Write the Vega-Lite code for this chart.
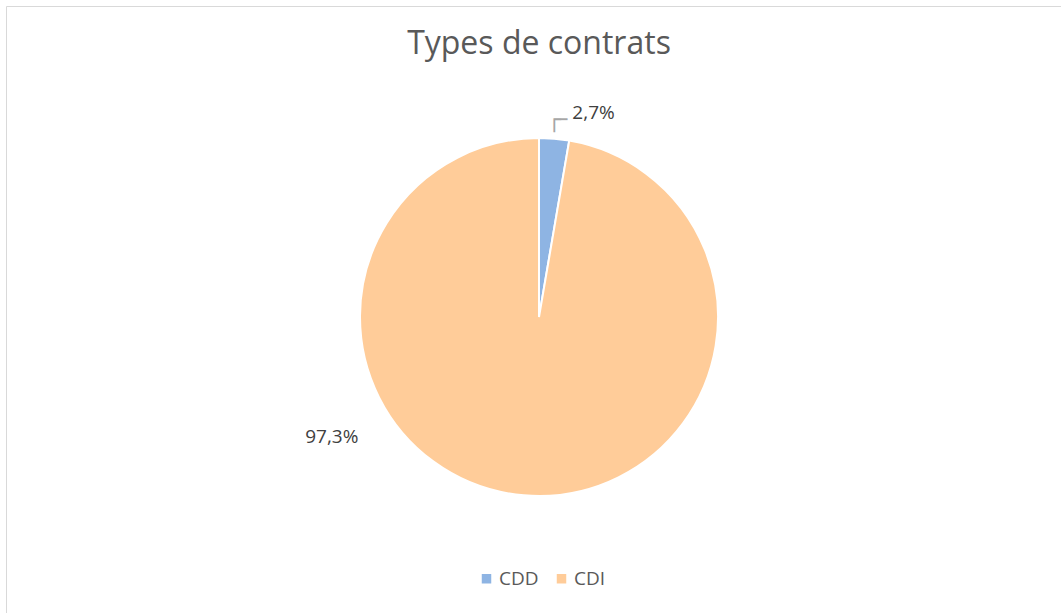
{
  "$schema": "https://vega.github.io/schema/vega-lite/v6.json",
  "width": 1066,
  "height": 622,
  "autosize": "none",
  "padding": {"left": 6, "top": 6, "right": 0, "bottom": 0},
  "background": "white",
  "view": {"stroke": "#d9d9d9", "strokeWidth": 1, "fill": "white"},
  "title": {
    "text": "Types de contrats",
    "font": "Open Sans",
    "fontSize": 32,
    "fontWeight": "normal",
    "color": "#595959",
    "anchor": "middle",
    "frame": "group",
    "baseline": "alphabetic",
    "offset": -80
  },
  "data": {
    "values": [
      {"type": "CDD", "value": 2.7, "label": "2,7%"},
      {"type": "CDI", "value": 97.3, "label": "97,3%"}
    ]
  },
  "encoding": {
    "theta": {"field": "value", "type": "quantitative", "stack": true},
    "order": {"field": "type", "type": "nominal", "sort": "ascending"}
  },
  "layer": [
    {
      "mark": {"type": "arc", "outerRadius": 179, "stroke": "white", "strokeWidth": 2},
      "encoding": {
        "color": {
          "field": "type",
          "type": "nominal",
          "scale": {"domain": ["CDD", "CDI"], "range": ["#8EB4E3", "#FFCC99"]},
          "legend": {
            "orient": "none",
            "legendX": 471,
            "legendY": 563,
            "direction": "horizontal",
            "title": null,
            "symbolType": "square",
            "symbolSize": 90,
            "symbolStrokeWidth": 0,
            "labelFont": "Open Sans",
            "labelFontSize": 19,
            "labelColor": "#595959",
            "columnPadding": 13,
            "labelOffset": 3
          }
        }
      }
    },
    {
      "mark": {"type": "text", "radius": 205, "dx": 16, "align": "left", "baseline": "middle", "font": "Open Sans", "fontSize": 19, "color": "#404040"},
      "encoding": {
        "text": {"condition": {"test": "datum.type === 'CDD'", "field": "label"}, "value": ""}
      }
    },
    {
      "mark": {"type": "text", "radius": 120, "dx": -197, "align": "center", "baseline": "middle", "font": "Open Sans", "fontSize": 19, "color": "#404040"},
      "encoding": {
        "text": {"condition": {"test": "datum.type === 'CDI'", "field": "label"}, "value": ""}
      }
    },
    {
      "mark": {"type": "text", "radius": 190, "dx": -7.7, "dy": -1, "align": "left", "baseline": "alphabetic", "font": "DejaVu Sans Mono", "fontSize": 22, "color": "#a6a6a6"},
      "encoding": {
        "text": {"condition": {"test": "datum.type === 'CDD'", "value": "┌╴"}, "value": ""}
      }
    }
  ]
}
